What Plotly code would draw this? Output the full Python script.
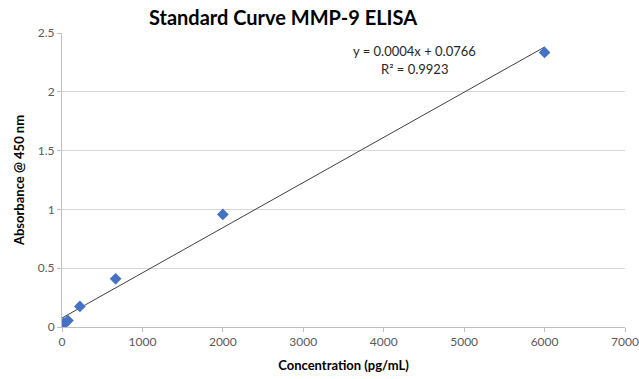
import plotly.graph_objects as go

concentration = [0, 8.2, 24.7, 74, 222, 667, 2000, 6000]
absorbance = [0.005, 0.02, 0.035, 0.055, 0.175, 0.41, 0.957, 2.335]

# linear trendline (Excel rounds slope in label)
trend_slope = 0.000384
trend_intercept = 0.0766

x_ticks = [0, 1000, 2000, 3000, 4000, 5000, 6000, 7000]
y_ticks = [0, 0.5, 1, 1.5, 2, 2.5]

title_text = "Standard Curve MMP-9 ELISA"
x_title = "Concentration (pg/mL)"
y_title = "Absorbance @ 450 nm"
eq_text = "y = 0.0004x + 0.0766"
r2_text = "R² = 0.9923"

fit_x = [min(concentration), max(concentration)]
fit_y = [trend_slope * v + trend_intercept for v in fit_x]

fig = go.Figure()
fig.add_trace(go.Scatter(
    x=fit_x, y=fit_y, mode="lines",
    line=dict(color="#404040", width=1),
    hoverinfo="skip", showlegend=False,
))
fig.add_trace(go.Scatter(
    x=concentration, y=absorbance, mode="markers",
    marker=dict(symbol="diamond", size=9, color="#4472C4"),
    showlegend=False,
))

fig.add_annotation(x=4380, y=2.349, text=eq_text, showarrow=False,
                   xref="x", yref="y", font=dict(family="Lato, Open Sans", size=13, color="#262626"))
fig.add_annotation(x=4380, y=2.195, text=r2_text, showarrow=False,
                   xref="x", yref="y", font=dict(family="Lato, Open Sans", size=13, color="#262626"))

fig.update_layout(
    width=639, height=379,
    margin=dict(l=62, r=14, t=33, b=52, autoexpand=False),
    paper_bgcolor="white", plot_bgcolor="white",
    title=dict(text="<b>" + title_text + "</b>", x=283/639, xanchor="center",
               y=0.952, yanchor="middle", automargin=False,
               font=dict(family="Lato, Open Sans", size=20, color="#000000")),
    font=dict(family="Lato, Open Sans", size=12, color="#595959"),
)
fig.update_xaxes(
    range=[0, 7000], tickvals=x_ticks, ticktext=[str(v) for v in x_ticks],
    showgrid=False, zeroline=False, automargin=False,
    showline=True, linecolor="#bfbfbf", linewidth=1,
    ticks="outside", ticklen=4, tickcolor="#bfbfbf",
    tickfont=dict(family="Lato, Open Sans", size=12, color="#595959"),
    title=dict(text="<b>" + x_title + "</b>", standoff=12,
               font=dict(family="Lato, Open Sans", size=13, color="#000000")),
)
fig.update_yaxes(
    range=[0, 2.5], tickvals=y_ticks, ticktext=["0", "0.5", "1", "1.5", "2", "2.5"],
    showgrid=True, gridcolor="#d9d9d9", gridwidth=1, zeroline=False, automargin=False,
    showline=True, linecolor="#bfbfbf", linewidth=1,
    ticks="outside", ticklen=4, tickcolor="#bfbfbf",
    tickfont=dict(family="Lato, Open Sans", size=12, color="#595959"),
    title=dict(text="<b>" + y_title + "</b>", standoff=10,
               font=dict(family="Lato, Open Sans", size=13, color="#000000")),
)

fig.write_html("out.html", config={"displayModeBar": False},
               post_script="document.body.style.margin='0';")
